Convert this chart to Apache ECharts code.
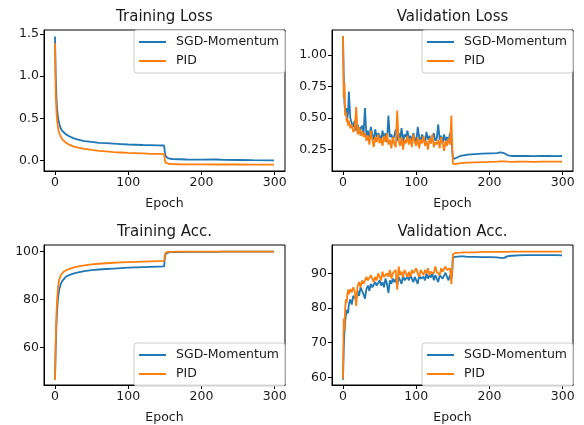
<!DOCTYPE html>
<html>
<head>
<meta charset="utf-8">
<script src="https://cdn.jsdelivr.net/npm/echarts@6/dist/echarts.min.js"></script>
<style>
html, body { margin: 0; padding: 0; background: #fff; }
#chart { width: 584px; height: 425px; }
</style>
</head>
<body>
<div id="chart"></div>
<script>
// epochs where the smooth training curves are sampled
const trainEpochs = [0,1,2,3,4,5,6,8,10,12,15,20,25,30,40,50,60,70,80,90,100,110,120,130,140,149,
  150,151,152,155,160,170,180,200,220,230,250,270,299];

const trainLossSGD = [1.47,1.0,0.75,0.6,0.52,0.47,0.43,0.38,0.35,0.33,0.31,0.285,0.265,0.25,0.23,0.22,0.21,0.205,0.2,0.195,0.19,0.187,0.184,0.182,0.18,0.178,
  0.10,0.05,0.035,0.025,0.018,0.015,0.012,0.01,0.012,0.008,0.006,0.004,0.003];
const trainLossPID = [1.39,0.8,0.58,0.47,0.4,0.35,0.32,0.28,0.25,0.23,0.21,0.185,0.168,0.155,0.137,0.125,0.115,0.108,0.1,0.095,0.09,0.087,0.084,0.08,0.078,0.076,
  0.0,-0.025,-0.032,-0.038,-0.042,-0.044,-0.045,-0.046,-0.047,-0.047,-0.047,-0.048,-0.048];

const trainAccSGD = [47,60,70,76,80,82.5,84.5,86.5,87.8,88.6,89.5,90.3,90.8,91.2,91.8,92.2,92.5,92.7,92.9,93.1,93.3,93.4,93.5,93.6,93.7,93.8,
  97.5,99,99.4,99.6,99.7,99.75,99.8,99.85,99.85,99.9,99.9,99.9,99.9];
const trainAccPID = [46.5,63,74,80.5,84.5,87,88.5,90.2,91,91.6,92.2,92.8,93.3,93.7,94.2,94.6,94.9,95.1,95.3,95.5,95.6,95.7,95.8,95.9,96,96.1,
  98.5,99.5,99.7,99.8,99.85,99.9,99.9,99.9,99.95,99.95,99.95,99.95,99.95];

// epochs where the noisy validation curves are sampled
const valEpochs = [0,1,2,3,4,5,6,7,8,
  10,12,14,16,18,20,22,24,26,28,
  30,32,34,36,38,40,42,44,46,48,
  50,52,54,56,58,60,62,64,66,68,
  70,72,74,76,78,80,82,84,86,88,
  90,92,94,96,98,100,102,104,106,108,
  110,112,114,116,118,120,122,124,126,128,
  130,132,134,136,138,140,142,144,146,148,
  149,150,151,153,155,160,165,170,180,190,200,210,215,220,225,230,240,250,260,270,280,290,299];

const valLossSGD = [1.15,0.85,0.62,0.55,0.52,0.58,0.50,0.55,0.71,
  0.50,0.46,0.43,0.48,0.40,0.45,0.38,0.42,0.44,0.37,
  0.58,0.36,0.40,0.34,0.43,0.37,0.33,0.41,0.35,0.38,
  0.36,0.32,0.40,0.34,0.38,0.31,0.52,0.35,0.37,0.33,
  0.36,0.41,0.32,0.38,0.34,0.42,0.31,0.37,0.35,0.40,
  0.33,0.36,0.31,0.38,0.34,0.30,0.43,0.35,0.32,0.37,
  0.34,0.31,0.39,0.33,0.36,0.30,0.35,0.38,0.32,0.34,
  0.45,0.33,0.36,0.30,0.37,0.32,0.35,0.31,0.38,0.34,
  0.33,0.18,0.17,0.18,0.19,0.20,0.205,0.21,0.215,0.218,0.22,0.222,0.228,0.222,0.205,0.20,0.20,0.201,0.199,0.20,0.20,0.199,0.20];
const valLossPID = [1.15,0.66,0.78,0.52,0.55,0.47,0.50,0.44,0.48,
  0.42,0.45,0.39,0.41,0.59,0.37,0.43,0.36,0.40,0.35,
  0.38,0.32,0.36,0.29,0.40,0.33,0.27,0.35,0.31,0.37,
  0.30,0.34,0.28,0.36,0.31,0.38,0.29,0.33,0.26,0.35,
  0.30,0.27,0.56,0.32,0.28,0.35,0.25,0.33,0.30,0.36,
  0.29,0.34,0.27,0.37,0.31,0.28,0.35,0.26,0.33,0.30,
  0.36,0.28,0.32,0.25,0.34,0.30,0.37,0.27,0.31,0.29,
  0.33,0.26,0.35,0.30,0.24,0.32,0.28,0.34,0.29,0.52,
  0.30,0.14,0.13,0.135,0.14,0.143,0.145,0.147,0.15,0.152,0.153,0.155,0.157,0.157,0.155,0.154,0.155,0.155,0.154,0.155,0.155,0.156,0.155];

const valAccSGD = [59.3,68,73,76,78,77.5,79.5,78.5,81,
  82.5,81,83.5,84,82.5,85,83.5,86,85,84,
  82.7,85.5,86.5,85,87,86,85.5,87.5,86.5,87,
  88,86.5,87.5,86,88.5,87,84.4,88,87,88.5,
  87.5,88.5,86.5,89,88,87,89.5,88,87.5,89,
  88,89.5,88.5,87.5,89,88.5,87,89.5,88.5,89,
  89,88,90,88.5,89.5,88.8,90,88,89.5,89,
  87.5,89.5,90,88.5,89,90.2,89,88,89.5,88.5,
  89.5,94.5,94.7,94.8,94.8,94.9,94.9,94.8,94.8,94.7,94.7,94.6,94.5,94.5,95.0,95.1,95.2,95.3,95.3,95.3,95.3,95.3,95.2];
const valAccPID = [59.6,77,73.5,80,82.5,81.5,84,85.3,84,
  85.5,84.5,86,85,80.6,86.5,87.5,86,88,87,
  87,89,88,87.5,89.5,88.5,87.5,89,88,90,
  89,88,90.5,89,88.5,90,89,91,88.5,90,
  89.5,91,85.3,92,89.5,90.5,89,91,90,89,
  90.5,89,91,90,89.5,91.5,90,89,91,90.5,
  89.5,91,90,91.5,89.5,90.5,91,90,92,90.5,
  91,89.5,91.5,90.5,90,92,91,90.5,91.5,86.9,
  91,95.5,95.8,95.9,96.0,96.0,96.1,96.1,96.1,96.2,96.2,96.2,96.2,96.2,96.2,96.3,96.3,96.3,96.3,96.3,96.3,96.3,96.3];

const seriesNames = ['SGD-Momentum', 'PID'];
const colors = ['#1f77b4', '#ff7f0e'];
const xTicks = [0, 100, 200, 300];

const panels = [
  {title: 'Training Loss', x: trainEpochs, sgd: trainLossSGD, pid: trainLossPID,
   ymin: -0.124, ymax: 1.546, yTicks: [0, 0.5, 1.0, 1.5], dec: 1, legendTop: true},
  {title: 'Validation Loss', x: valEpochs, sgd: valLossSGD, pid: valLossPID,
   ymin: 0.081, ymax: 1.198, yTicks: [0.25, 0.5, 0.75, 1.0], dec: 2, legendTop: true},
  {title: 'Training Acc.', x: trainEpochs, sgd: trainAccSGD, pid: trainAccPID,
   ymin: 44.4, ymax: 102.7, yTicks: [60, 80, 100], dec: 0, legendTop: false},
  {title: 'Validation Acc.', x: valEpochs, sgd: valAccSGD, pid: valAccPID,
   ymin: 57.8, ymax: 98.2, yTicks: [60, 70, 80, 90], dec: 0, legendTop: false}
];

const boxes = [
  {left: 44, top: 30, width: 241, height: 141},
  {left: 332, top: 30, width: 241, height: 141},
  {left: 44, top: 245, width: 241, height: 141},
  {left: 332, top: 245, width: 241, height: 141}
];

const font = 'DejaVu Sans';
const textColor = '#1a1a1a';

let myChart = echarts.init(document.getElementById('chart'), null, {renderer: 'canvas'});

let grids = [], xAxes = [], yAxes = [], series = [], legends = [], graphics = [];

panels.forEach(function (p, i) {
  const b = boxes[i];
  grids.push({left: b.left, top: b.top, width: b.width, height: b.height,
    show: true, borderColor: '#000', borderWidth: 1, backgroundColor: '#fff'});
  xAxes.push({
    gridIndex: i, type: 'value', min: -15, max: 314,
    name: 'Epoch', nameLocation: 'middle', nameGap: 26,
    nameTextStyle: {fontFamily: font, fontSize: 12.5, color: textColor},
    splitLine: {show: false},
    axisLine: {show: true, onZero: false, lineStyle: {color: '#000', width: 1}},
    axisTick: {show: true, length: 4, lineStyle: {color: '#000', width: 1}, customValues: xTicks},
    axisLabel: {fontFamily: font, fontSize: 12.5, color: textColor, margin: 5, customValues: xTicks}
  });
  yAxes.push({
    gridIndex: i, type: 'value', min: p.ymin, max: p.ymax,
    splitLine: {show: false},
    axisLine: {show: true, onZero: false, lineStyle: {color: '#000', width: 1}},
    axisTick: {show: true, length: 4, lineStyle: {color: '#000', width: 1}, customValues: p.yTicks},
    axisLabel: {fontFamily: font, fontSize: 12.5, color: textColor, margin: 5, customValues: p.yTicks,
      formatter: function (v) { return Number(v).toFixed(p.dec); }}
  });
  [p.sgd, p.pid].forEach(function (vals, k) {
    series.push({
      name: seriesNames[k], type: 'line', xAxisIndex: i, yAxisIndex: i,
      data: p.x.map(function (e, j) { return [e, vals[j]]; }),
      symbol: 'none', smooth: false, animation: false,
      lineStyle: {color: colors[k], width: 1.8},
      itemStyle: {color: colors[k]}
    });
  });
  const leg = {
    seriesIndex: [2 * i, 2 * i + 1],
    data: seriesNames, orient: 'vertical',
    right: 584 - (b.left + b.width),
    icon: 'rect',
    itemWidth: 27, itemHeight: 2, itemGap: 5,
    padding: [5, 6, 5, 5],
    backgroundColor: 'rgba(255,255,255,0.85)',
    borderColor: '#cccccc', borderWidth: 1, borderRadius: 3,
    textStyle: {fontFamily: font, fontSize: 12.5, color: textColor, padding: [0, 0, 0, 5], lineHeight: 14}
  };
  if (p.legendTop) { leg.top = b.top; } else { leg.bottom = 425 - (b.top + b.height); }
  legends.push(leg);
  graphics.push({
    type: 'text', x: b.left + b.width / 2, y: b.top - 13,
    style: {text: p.title, fontFamily: font, fontSize: 15, fill: textColor,
      align: 'center', verticalAlign: 'middle'}
  });
});

let option = {
  animation: false,
  backgroundColor: '#fff',
  grid: grids,
  xAxis: xAxes,
  yAxis: yAxes,
  series: series,
  legend: legends,
  graphic: graphics
};
myChart.setOption(option);
window.addEventListener('resize', function () {
  myChart.resize();
});
</script>
</body>
</html>
